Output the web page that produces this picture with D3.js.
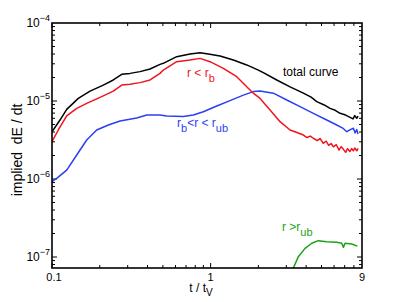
<!DOCTYPE html>
<html><head><meta charset="utf-8">
<script src="https://cdn.jsdelivr.net/npm/d3@7"></script>
<style>
html,body{margin:0;padding:0;background:#fff;}
svg{display:block;font-family:"Liberation Sans",Arial,Helvetica,sans-serif;}
</style></head>
<body>
<svg id="c" width="399" height="302"></svg>
<script>
// ---- data ----
const totalT = [0.1,0.1123,0.1238,0.1465,0.1737,0.2106,0.2434,0.2751,0.3102,0.3588,0.4149,0.4797,0.503,0.6112,0.7414,0.8573,0.9672,1.1465,1.39,1.689,1.999,2.149,2.611,3.167,3.842,4.3,4.667,5.2,5.659,6.1,6.545,7.1,7.568,7.9,8.1,8.34,8.5];
const totalV = [4.04e-6,5.70e-6,7.82e-6,1.08e-5,1.34e-5,1.60e-5,1.86e-5,2.20e-5,2.26e-5,2.38e-5,2.57e-5,2.95e-5,3.04e-5,3.70e-5,4.01e-5,4.16e-5,4.01e-5,3.78e-5,3.36e-5,2.90e-5,2.49e-5,2.31e-5,1.86e-5,1.52e-5,1.26e-5,1.12e-5,9.80e-6,8.90e-6,8.05e-6,7.60e-6,6.95e-6,6.60e-6,6.18e-6,5.90e-6,6.50e-6,6.00e-6,6.40e-6];

const innerT = [0.1,0.1096,0.1238,0.1432,0.1655,0.2058,0.2434,0.2751,0.3102,0.3588,0.4149,0.4797,0.503,0.6112,0.7414,0.8573,0.9913,1.2025,1.461,1.689,1.859,2.049,2.369,2.739,3.167,3.5,3.842,4.05,4.25,4.44,4.7,4.9,5.13,5.35,5.55,5.75,5.94,6.2,6.45,6.65,6.87,7.1,7.3,7.55,7.75,7.94,8.1,8.34,8.5];
const innerV = [3.01e-6,4.25e-6,6.43e-6,8.05e-6,9.33e-6,1.14e-5,1.34e-5,1.60e-5,1.64e-5,1.72e-5,1.86e-5,2.26e-5,2.49e-5,3.19e-5,3.36e-5,3.52e-5,3.19e-5,2.62e-5,2.05e-5,1.52e-5,1.26e-5,1.08e-5,7.67e-6,5.43e-6,4.25e-6,3.95e-6,3.66e-6,3.40e-6,3.55e-6,3.33e-6,3.10e-6,3.30e-6,2.87e-6,3.05e-6,2.70e-6,2.85e-6,2.59e-6,2.75e-6,2.35e-6,2.60e-6,2.40e-6,2.20e-6,2.45e-6,2.25e-6,2.45e-6,2.30e-6,2.50e-6,2.30e-6,2.47e-6];

const shellT = [0.1,0.107,0.1238,0.1432,0.1655,0.1913,0.2265,0.2685,0.342,0.3955,0.4797,0.5287,0.6727,0.7779,0.8995,1.093,1.325,1.608,1.859,2.049,2.485,3.019,3.663,4.442,5.395,6.237,6.8,7.214,7.6,7.94,8.15,8.34,8.5];
const shellV = [9.23e-7,1.02e-6,1.30e-6,2.03e-6,3.16e-6,4.25e-6,4.92e-6,5.55e-6,6.05e-6,6.62e-6,6.62e-6,6.43e-6,6.31e-6,6.62e-6,7.29e-6,8.63e-6,1.01e-5,1.19e-5,1.32e-5,1.34e-5,1.26e-5,1.03e-5,8.45e-6,6.95e-6,5.70e-6,4.92e-6,4.50e-6,4.04e-6,4.30e-6,4.47e-6,3.90e-6,4.30e-6,3.78e-6];

const outerT = [3.28,3.573,3.937,4.34,4.775,5.395,6.237,6.708,6.866,7.037,7.757,8.414];
const outerV = [6.8e-8,1.01e-7,1.29e-7,1.50e-7,1.62e-7,1.57e-7,1.55e-7,1.50e-7,1.33e-7,1.50e-7,1.47e-7,1.38e-7];

const xTickVals = [0.1, 1, 9];
const xTickLabels = ["0.1", "1", "9"];
const yTickExps = [-4, -5, -6, -7];

// ---- layout ----
const L = 52, R = 362, T = 23, B = 268;
const svg = d3.select("#c");
const x = d3.scaleLog().domain([0.1, 9]).range([L, R]);
const y = d3.scaleLog().domain([Math.pow(10, -7 - 11/78), 1e-4]).range([B, T]);

svg.append("defs").append("clipPath").attr("id", "clip")
  .append("rect").attr("x", L).attr("y", T).attr("width", R - L).attr("height", B - T);

// ---- ticks ----
const g = svg.append("g").attr("stroke", "#000").attr("stroke-width", 1);
const xTicks = [];
for (let d = 0.1; d <= 1.0001; d *= 10) {
  for (let k = 1; k <= 9; k++) { const v = k * d; if (v >= 0.1 && v <= 9.0001) xTicks.push({v, major: k === 1}); }
}
xTicks.forEach(t => {
  const px = x(t.v), len = t.major ? 5 : 3;
  if (Math.abs(px - R) < 0.5) return;
  g.append("line").attr("x1", px).attr("x2", px).attr("y1", B).attr("y2", B - len);
  g.append("line").attr("x1", px).attr("x2", px).attr("y1", T).attr("y2", T + len);
});
const yTicks = [];
for (let e = -8; e <= -5; e++) {
  for (let k = 1; k <= 9; k++) { const v = k * Math.pow(10, e); if (v >= y.domain()[0] && v <= 1.0001e-4) yTicks.push({v, major: k === 1}); }
}
yTicks.forEach(t => {
  const py = y(t.v), len = t.major ? 5 : 3;
  if (Math.abs(py - T) < 0.5) return;
  g.append("line").attr("x1", L).attr("x2", L + len).attr("y1", py).attr("y2", py);
  g.append("line").attr("x1", R).attr("x2", R - len).attr("y1", py).attr("y2", py);
});

// ---- curves ----
const line = d3.line().x(d => x(d[0])).y(d => y(d[1]));
const series = [
  {t: shellT, v: shellV, c: "#2b3ff5"},
  {t: innerT, v: innerV, c: "#f0141e"},
  {t: totalT, v: totalV, c: "#000000"},
  {t: outerT, v: outerV, c: "#1aa31a"}
];
const cg = svg.append("g").attr("clip-path", "url(#clip)");
series.forEach(s => {
  cg.append("path").datum(d3.zip(s.t, s.v)).attr("d", line)
    .attr("fill", "none").attr("stroke", s.c).attr("stroke-width", 1.5)
    .attr("stroke-linejoin", "round");
});

// ---- frame ----
svg.append("rect").attr("x", L).attr("y", T).attr("width", R - L).attr("height", B - T)
  .attr("fill", "none").attr("stroke", "#000").attr("stroke-width", 1.6);

// ---- tick labels ----
xTickVals.forEach((v, i) => {
  svg.append("text").attr("x", x(v) + (i === 0 ? 2 : 0)).attr("y", 281)
    .attr("text-anchor", "middle").attr("font-size", 11).text(xTickLabels[i]);
});
yTickExps.forEach(e => {
  const t = svg.append("text").attr("x", 50).attr("y", y(Math.pow(10, e)) + 4)
    .attr("text-anchor", "end").attr("font-size", 12);
  t.append("tspan").text("10");
  t.append("tspan").attr("dy", -6).attr("font-size", 9).text("\u2212" + Math.abs(e));
});

// ---- axis titles ----
const xt = svg.append("text").attr("x", 201).attr("y", 292).attr("text-anchor", "middle").attr("font-size", 12);
xt.append("tspan").text("t / t");
xt.append("tspan").attr("dy", 4).attr("font-size", 10).text("V");

svg.append("text").attr("transform", "translate(22,150) rotate(-90)")
  .attr("text-anchor", "middle").attr("font-size", 14).style("white-space", "pre")
  .text("implied  dE / dt");

// ---- annotations ----
function label(xp, yp, main, sub, color, rest, sub2) {
  const t = svg.append("text").attr("x", xp).attr("y", yp).attr("font-size", 12).attr("fill", color);
  t.append("tspan").text(main);
  if (sub) t.append("tspan").attr("dy", 5).attr("font-size", 11).text(sub);
  if (rest) t.append("tspan").attr("dy", -5).text(rest);
  if (sub2) t.append("tspan").attr("dy", 5).attr("font-size", 11).text(sub2);
}
label(283, 76, "total curve", null, "#000");
label(187, 77, "r < r", "b", "#f0141e");
label(177, 127, "r", "b", "#2b3ff5", "<r < r", "ub");
label(282, 231, "r >r", "ub", "#1aa31a");
</script>
</body></html>
